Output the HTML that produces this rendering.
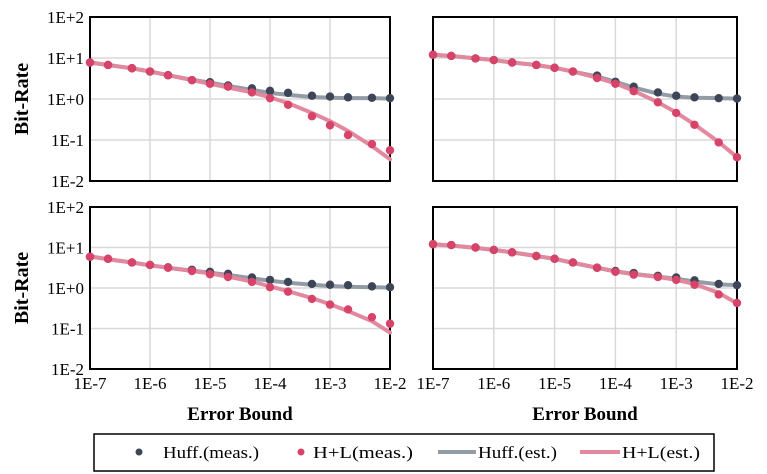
<!DOCTYPE html>
<html><head><meta charset="utf-8">
<style>
body{margin:0;background:#fff;}
svg{display:block;font-family:"Liberation Serif",serif;}
</style></head>
<body>
<svg id="chart" width="767" height="474" viewBox="0 0 767 474" xmlns="http://www.w3.org/2000/svg"></svg>
<script>
const xExps = [-7,-6.699,-6.301,-6,-5.699,-5.301,-5,-4.699,-4.301,-4,-3.699,-3.301,-3,-2.699,-2.301,-2];
const xTickLabels = ["1E-7","1E-6","1E-5","1E-4","1E-3","1E-2"];
const yTickLabels = ["1E+2","1E+1","1E+0","1E-1","1E-2"];
const tlHuffMeas = [0.89,0.83,0.75,0.67,0.58,0.46,0.41,0.33,0.26,0.20,0.15,0.08,0.06,0.04,0.03,0.02];
const tlHLMeas   = [0.89,0.83,0.75,0.67,0.58,0.46,0.37,0.30,0.16,0.02,-0.14,-0.42,-0.64,-0.88,-1.10,-1.25];
const tlHuffEst  = [0.89,0.83,0.75,0.67,0.58,0.47,0.40,0.32,0.22,0.15,0.10,0.05,0.03,0.02,0.02,0.01];
const tlHLEst    = [0.89,0.83,0.75,0.67,0.58,0.46,0.37,0.28,0.16,0.04,-0.10,-0.34,-0.54,-0.78,-1.15,-1.47];
const trHuffMeas = [1.08,1.05,0.99,0.95,0.89,0.83,0.76,0.67,0.57,0.42,0.30,0.16,0.08,0.04,0.02,0.01];
const trHLMeas   = [1.08,1.05,0.99,0.95,0.89,0.83,0.76,0.67,0.51,0.37,0.19,-0.08,-0.34,-0.63,-1.06,-1.42];
const trHuffEst  = [1.08,1.05,0.99,0.95,0.89,0.83,0.76,0.67,0.55,0.42,0.28,0.13,0.06,0.03,0.02,0.01];
const trHLEst    = [1.08,1.05,0.99,0.95,0.89,0.83,0.76,0.67,0.52,0.38,0.20,-0.08,-0.33,-0.62,-1.05,-1.42];
const blHuffMeas = [0.77,0.72,0.63,0.57,0.51,0.45,0.40,0.35,0.26,0.20,0.15,0.10,0.08,0.07,0.04,0.02];
const blHLMeas   = [0.77,0.72,0.63,0.57,0.50,0.42,0.34,0.27,0.15,0.02,-0.09,-0.27,-0.41,-0.53,-0.72,-0.88];
const blHuffEst  = [0.78,0.71,0.63,0.56,0.50,0.43,0.38,0.32,0.24,0.18,0.13,0.08,0.05,0.03,0.02,0.01];
const blHLEst    = [0.78,0.71,0.63,0.56,0.50,0.42,0.36,0.28,0.16,0.04,-0.08,-0.25,-0.40,-0.57,-0.82,-1.10];
const brHuffMeas = [1.08,1.06,1.00,0.94,0.88,0.79,0.72,0.63,0.50,0.42,0.37,0.30,0.26,0.19,0.10,0.07];
const brHLMeas   = [1.08,1.06,1.00,0.94,0.88,0.79,0.72,0.63,0.50,0.40,0.33,0.27,0.20,0.08,-0.16,-0.37];
const brHuffEst  = [1.08,1.05,0.99,0.94,0.88,0.79,0.72,0.62,0.50,0.41,0.35,0.28,0.23,0.16,0.09,0.07];
const brHLEst    = [1.08,1.05,0.99,0.94,0.88,0.79,0.72,0.62,0.50,0.41,0.34,0.27,0.20,0.10,-0.12,-0.38];

const NS="http://www.w3.org/2000/svg";
const svg=document.getElementById('chart');
function el(tag,attrs,parent){const e=document.createElementNS(NS,tag);for(const k in attrs)e.setAttribute(k,attrs[k]);(parent||svg).appendChild(e);return e;}

const panels=[
 {name:'top-left',x0:90,x1:390,y0:17,y1:181,hm:tlHuffMeas,lm:tlHLMeas,he:tlHuffEst,le:tlHLEst,yl:true,xl:false},
 {name:'top-right',x0:433,x1:737,y0:17,y1:181,hm:trHuffMeas,lm:trHLMeas,he:trHuffEst,le:trHLEst,yl:false,xl:false},
 {name:'bottom-left',x0:90,x1:390,y0:207,y1:369,hm:blHuffMeas,lm:blHLMeas,he:blHuffEst,le:blHLEst,yl:true,xl:true},
 {name:'bottom-right',x0:433,x1:737,y0:207,y1:369,hm:brHuffMeas,lm:brHLMeas,he:brHuffEst,le:brHLEst,yl:false,xl:true}
];
panels.forEach(p=>{
 const g=el('g',{});
 
 
 const xs=v=>p.x0+(v+7)/5*(p.x1-p.x0);
 const ys=v=>p.y0+(2-v)/4*(p.y1-p.y0);
 for(let i=1;i<5;i++){
  el('line',{x1:xs(-7+i),x2:xs(-7+i),y1:p.y0,y2:p.y1,stroke:'#d9d9d9','stroke-width':1.5},g);
  el('line',{x1:p.x0,x2:p.x1,y1:ys(2-i),y2:ys(2-i),stroke:'#d9d9d9','stroke-width':1.5},g);
 }
 el('rect',{x:p.x0,y:p.y0,width:p.x1-p.x0,height:p.y1-p.y0,fill:'none',stroke:'#000','stroke-width':2},g);
 if(p.yl){yTickLabels.forEach((t,i)=>{
  const tx=el('text',{x:p.x0-6,y:ys(2-i)+6,'text-anchor':'end','font-size':17,fill:'#000'},g);tx.textContent=t;
  
  
 });
  const yt=el('text',{x:0,y:0,transform:`translate(28,${(p.y0+p.y1)/2}) rotate(-90)`,'text-anchor':'middle','font-size':20,'font-weight':'bold'},g);yt.textContent='Bit-Rate';
  
  
 }
 if(p.xl){xTickLabels.forEach((t,i)=>{
  const tx=el('text',{x:xs(-7+i),y:p.y1+20,'text-anchor':'middle','font-size':17},g);tx.textContent=t;
  
  
 });
  const xt=el('text',{x:(p.x0+p.x1)/2,y:420,'text-anchor':'middle','font-size':19,'font-weight':'bold'},g);xt.textContent='Error Bound';
  
  
 }
 const line=(arr,col,nm)=>{const l=el('polyline',{points:arr.map((v,i)=>xs(xExps[i])+','+ys(v)).join(' '),fill:'none',stroke:col,'stroke-width':4,'stroke-linejoin':'round','stroke-linecap':'round'},g);
  
  };
 line(p.he,'#939ca6','huff-est-line');
 line(p.le,'#e3899f','hl-est-line');
 const dots=(arr,col,nm)=>arr.forEach((v,i)=>{const c=el('circle',{cx:xs(xExps[i]),cy:ys(v),r:4.2,fill:col},g);
  
  });
 dots(p.hm,'#3c4657','huff-meas-point');
 dots(p.lm,'#d8436a','hl-meas-point');
});
</script>
<svg style="position:absolute;left:0;top:0" width="767" height="474" xmlns="http://www.w3.org/2000/svg" font-family="Liberation Serif, serif" font-size="17">
 <rect x="94" y="434" width="620" height="37" fill="none" stroke="#000" stroke-width="1.5"/>
 <g><circle cx="139" cy="452" r="3.5" fill="#3c4657"/><text x="163" y="458" textLength="96" lengthAdjust="spacingAndGlyphs">Huff.(meas.)</text></g>
 <g><circle cx="301" cy="452" r="3.5" fill="#d8436a"/><text x="313" y="458" textLength="100" lengthAdjust="spacingAndGlyphs">H+L(meas.)</text></g>
 <g><line x1="438" y1="452" x2="476" y2="452" stroke="#939ca6" stroke-width="4"/><text x="478" y="458" textLength="79" lengthAdjust="spacingAndGlyphs">Huff.(est.)</text></g>
 <g><line x1="580" y1="452" x2="620" y2="452" stroke="#e3899f" stroke-width="4"/><text x="622" y="458" textLength="78" lengthAdjust="spacingAndGlyphs">H+L(est.)</text></g>
</svg>
</body></html>
